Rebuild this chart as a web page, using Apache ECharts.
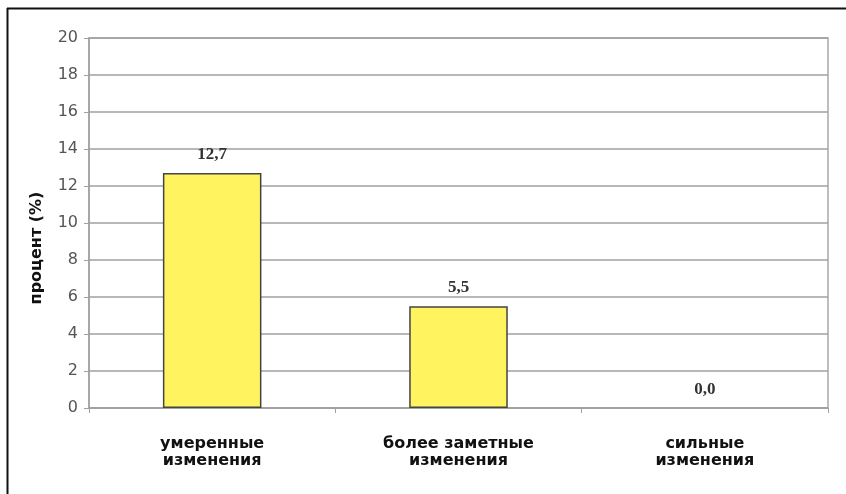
<!DOCTYPE html>
<html><head><meta charset="utf-8">
<script src="https://cdn.jsdelivr.net/npm/echarts@6/dist/echarts.min.js"></script>
<style>html,body{margin:0;padding:0;background:#fff}#c{width:846px;height:494px}</style>
</head><body><div id="c"></div>
<script>
const categories = ['умеренные\nизменения', 'более заметные\nизменения', 'сильные\nизменения'];
const values = [12.7, 5.5, 0.0];
const yTicks = { min: 0, max: 20, interval: 2 };
const yName = 'процент (%)';

const chart = echarts.init(document.getElementById('c'), null, {renderer: 'canvas'});
chart.setOption({
  animation: false,
  backgroundColor: '#fff',
  graphic: [
    {type: 'line', shape: {x1: 7, y1: 8.5, x2: 846, y2: 8.5}, style: {stroke: '#111', lineWidth: 2}},
    {type: 'line', shape: {x1: 7.5, y1: 8, x2: 7.5, y2: 494}, style: {stroke: '#111', lineWidth: 2}}
  ],
  grid: {left: 89, right: 18, top: 38, bottom: 86, show: true, borderColor: '#a8a8a8', borderWidth: 1.5},
  xAxis: {
    type: 'category', data: categories,
    axisLine: {lineStyle: {color: '#a0a0a0', width: 1.5}},
    axisTick: {show: true, length: 5, lineStyle: {color: '#a0a0a0'}},
    axisLabel: {color: '#111', fontFamily: 'DejaVu Sans', fontWeight: 'bold', fontSize: 16, lineHeight: 17, margin: 27}
  },
  yAxis: {
    type: 'value', min: yTicks.min, max: yTicks.max, interval: yTicks.interval,
    name: yName, nameLocation: 'middle', nameGap: 44,
    nameTextStyle: {color: '#111', fontFamily: 'DejaVu Sans', fontWeight: 'bold', fontSize: 16, padding: [0, 50, 0, 0]},
    axisLine: {show: true, lineStyle: {color: '#a0a0a0', width: 1.5}},
    axisTick: {show: true, length: 5, lineStyle: {color: '#a0a0a0'}},
    axisLabel: {color: '#555', fontFamily: 'DejaVu Sans', fontSize: 16, margin: 11},
    splitLine: {lineStyle: {color: '#a0a0a0', width: 1.5}}
  },
  series: [{
    type: 'bar',
    data: values.map(v => v === 0 ? {value: v, itemStyle: {borderWidth: 0}} : v),
    barWidth: '40%',
    itemStyle: {color: '#fff35f', borderColor: '#444', borderWidth: 1.5},
    label: {show: true, position: 'top', distance: 10, color: '#333',
      fontFamily: 'Liberation Serif, Times New Roman', fontWeight: 'bold', fontSize: 17,
      formatter: p => p.value.toFixed(1).replace('.', ',')}
  }]
});
</script></body></html>
